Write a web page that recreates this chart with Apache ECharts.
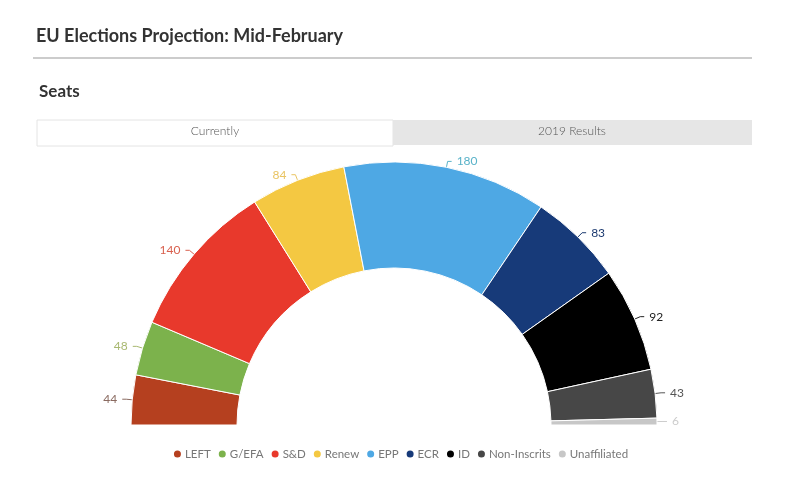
<!DOCTYPE html>
<html><head><meta charset="utf-8">
<script src="https://cdn.jsdelivr.net/npm/echarts@6/dist/echarts.min.js"></script>
<style>html,body{margin:0;padding:0;background:#fff}#c{width:800px;height:501px}</style>
</head><body><div id="c"></div>
<script>
const parties = ['LEFT','G/EFA','S&D','Renew','EPP','ECR','ID','Non-Inscrits','Unaffiliated'];
const seats = [44,48,140,84,180,83,92,43,6];
const colors = ['#b5401f','#7cb24c','#e8392c','#f4c842','#4ea8e4','#173a79','#000000','#474747','#c7c7c7'];
const labelColors = ['#8a6a60','#a8b870','#d9614f','#e9c462','#5ab3c9','#1c3a70','#222222','#555555','#cccccc'];
const tabs = ['Currently','2019 Results'];

const chart = echarts.init(document.getElementById('c'));
const font = 'Lato, "Open Sans", sans-serif';
chart.setOption({
  animation:false,
  title:[
    {text:'EU Elections Projection: Mid-February',left:31,top:22,textStyle:{fontFamily:font,fontSize:18,fontWeight:'bold',color:'#333'}},
    {text:'Seats',left:34,top:78,textStyle:{fontFamily:font,fontSize:17,fontWeight:'bold',color:'#333'}}
  ],
  graphic:[
    {type:'line',shape:{x1:33,y1:58,x2:752,y2:58},style:{stroke:'#bbb',lineWidth:1.5}},
    {type:'rect',shape:{x:37,y:120,width:356,height:26},style:{fill:'#fff',stroke:'#e4e4e4',lineWidth:1}},
    {type:'rect',shape:{x:393,y:120,width:359,height:25},style:{fill:'#e6e6e6'}},
    {type:'text',x:215,y:131,style:{text:tabs[0],fill:'#555',font:'300 12px '+font,align:'center',verticalAlign:'middle'}},
    {type:'text',x:572,y:131,style:{text:tabs[1],fill:'#555',font:'300 12px '+font,align:'center',verticalAlign:'middle'}}
  ],
  legend:{
    bottom:36,left:'center',icon:'circle',itemWidth:9,itemHeight:9,itemGap:6,
    textStyle:{fontFamily:font,fontSize:11.5,color:'#777',padding:[0,0,0,-2]},
    data:parties
  },
  series:[{
    type:'pie',
    center:[394,425],
    radius:[157,263],
    startAngle:180,endAngle:360,
    clockwise:true,
    avoidLabelOverlap:false,
    itemStyle:{borderColor:'#fff',borderWidth:1},
    label:{show:true,position:'outside',fontFamily:font,fontSize:12,formatter:'{c}'},
    labelLine:{show:true,length:6,length2:4,lineStyle:{width:1}},
    data:parties.map((p,i)=>({name:p,value:seats[i],itemStyle:{color:colors[i]},label:{color:labelColors[i]},labelLine:{lineStyle:{color:labelColors[i]}}}))
  }]
});
</script></body></html>
